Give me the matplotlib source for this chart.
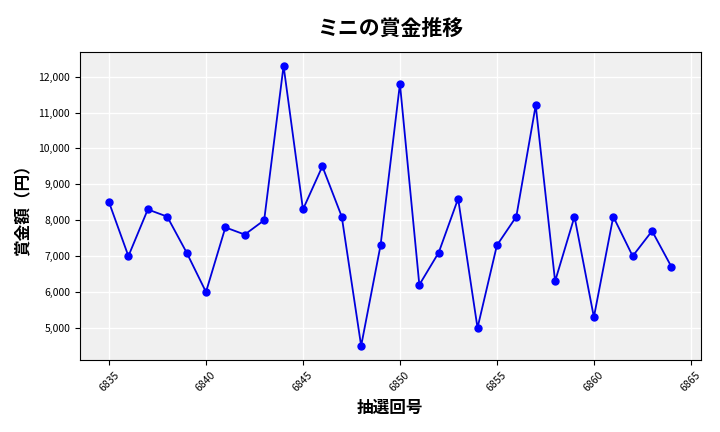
import matplotlib
matplotlib.use("Agg")
import matplotlib.pyplot as plt

draws = list(range(6835, 6865))
prizes = [8500, 7000, 8300, 8100, 7100, 6000, 7800, 7600, 8000, 12300,
          8300, 9500, 8100, 4500, 7300, 11800, 6200, 7100, 8600, 5000,
          7300, 8100, 11200, 6300, 8100, 5300, 8100, 7000, 7700, 6700]

plt.rcParams['font.family'] = ['Noto Sans CJK JP', 'DejaVu Sans']
fig = plt.figure(figsize=(7.2, 4.32), dpi=100)
ax = fig.add_axes([0.111, 0.167, 0.862, 0.713])
ax.set_facecolor('#f0f0f0')
ax.grid(True, color='white', linewidth=1)
ax.set_axisbelow(True)
ax.plot(draws, prizes, color='#0000dd', marker='o', markersize=5, linewidth=1.3,
        markerfacecolor='#0000ff', markeredgecolor='#0000ff')
ax.set_title('ミニの賞金推移', fontsize=15, fontweight='bold', pad=12)
ax.set_xlabel('抽選回号', fontsize=12, fontweight='bold')
ax.set_ylabel('賞金額（円）', fontsize=12, fontweight='bold')
ax.yaxis.set_major_formatter(matplotlib.ticker.FuncFormatter(lambda v, p: f'{int(v):,}'))
ax.set_xticks(range(6835, 6866, 5))
ax.tick_params(axis='x', labelrotation=45, labelsize=7.5)
ax.tick_params(axis='y', labelsize=7.5)
ax.set_xlim(6833.5, 6865.5)
ax.set_ylim(4110, 12690)
fig.savefig('out.png', dpi=100)
